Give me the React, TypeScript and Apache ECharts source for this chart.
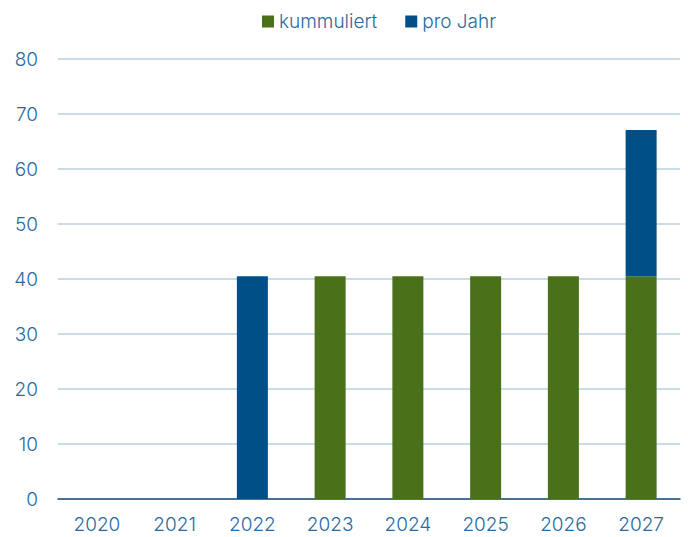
import React, { useEffect, useRef } from "react";
import * as echarts from "echarts";

const categories = ["2020", "2021", "2022", "2023", "2024", "2025", "2026", "2027"];
const kummuliert = [0, 0, 0, 40.5, 40.5, 40.5, 40.5, 40.5];
const proJahr = [0, 0, 40.5, 0, 0, 0, 0, 26.6];

const GREEN = "#4a7119";
const BLUE = "#004f86";
const TEXT = "#2a6aa0";
const FONT = "Inter, 'Noto Sans', sans-serif";

export default function App() {
  const ref = useRef<HTMLDivElement>(null);
  useEffect(() => {
    if (!ref.current) return;
    const chart = echarts.init(ref.current, undefined, { renderer: "svg" });
    chart.setOption({
      animation: false,
      backgroundColor: "#ffffff",
      textStyle: { fontFamily: FONT },
      legend: {
        top: 7,
        left: 257,
        itemWidth: 12,
        itemHeight: 12,
        itemGap: 28,
        icon: "rect",
        textStyle: { color: TEXT, fontSize: 19, fontFamily: FONT, fontWeight: 300 },
        data: ["kummuliert", "pro Jahr"],
      },
      grid: { left: 58, right: 8, top: 59, bottom: 38, containLabel: false },
      xAxis: {
        type: "category",
        data: categories,
        axisLine: { show: true, lineStyle: { color: "#1f4e79", width: 1.5 } },
        axisTick: { show: false },
        axisLabel: { color: TEXT, fontSize: 19, fontFamily: FONT, fontWeight: 300, margin: 16 },
      },
      yAxis: {
        type: "value",
        min: 0,
        max: 80,
        interval: 10,
        axisLine: { show: false },
        axisTick: { show: false },
        splitLine: { lineStyle: { color: "#b9d0e0", width: 1.5 } },
        axisLabel: { color: TEXT, fontSize: 19, fontFamily: FONT, fontWeight: 300, margin: 20 },
      },
      series: [
        {
          name: "kummuliert",
          type: "bar",
          stack: "total",
          data: kummuliert,
          barWidth: 31,
          itemStyle: { color: GREEN },
        },
        {
          name: "pro Jahr",
          type: "bar",
          stack: "total",
          data: proJahr,
          barWidth: 31,
          itemStyle: { color: BLUE },
        },
      ],
    });
    return () => chart.dispose();
  }, []);
  return (
    <div
      ref={ref}
      style={{ position: "fixed", left: 0, top: 0, width: 688, height: 537, background: "#fff" }}
    />
  );
}
